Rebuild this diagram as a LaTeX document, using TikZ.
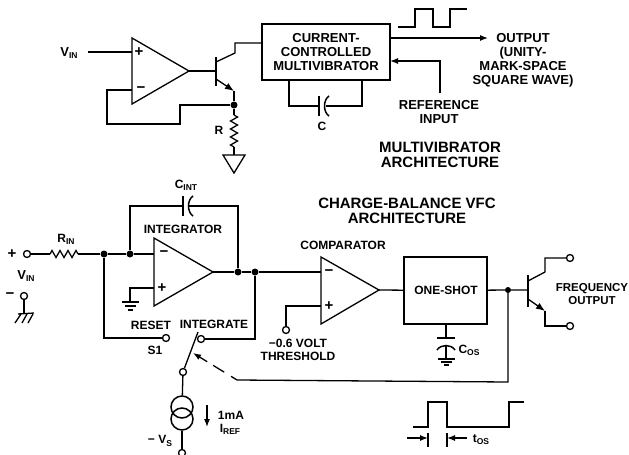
\documentclass[tikz,border=0pt]{standalone}
\usepackage{fontspec}
\setmainfont{Liberation Sans}
\usetikzlibrary{
    arrows.meta,
    decorations.pathmorphing,
    calc
}
\newcommand{\lowtxt}[1]{\raisebox{-2.2pt}{\fontsize{8.5}{8.5}\selectfont #1}}
\tikzset{
    wire/.style={line width=1.3pt, line join=miter},
    bigtip/.style={-{Latex[length=8pt, width=6pt]}},
    emittip/.style={-{Latex[length=9pt, width=7pt]}},
    junction/.style={circle, fill=black, inner sep=0pt, minimum size=7pt},
    smalldot/.style={circle, fill=black, inner sep=0pt, minimum size=6pt},
    term/.style={circle, draw, fill=white, line width=1.3pt, inner sep=0pt, minimum size=7pt},
    lbl/.style={font=\bfseries\fontsize{12}{13.5}\selectfont, align=center, inner sep=0pt},
    toplbl/.style={font=\bfseries\fontsize{13}{14}\selectfont, align=center, inner sep=0pt},
    title/.style={font=\bfseries\fontsize{15}{15.5}\selectfont, align=center, inner sep=0pt},
    signlbl/.style={font=\bfseries\fontsize{15}{15}\selectfont, inner sep=0pt},
    res/.style={wire, decorate, decoration={zigzag, segment length=8pt, amplitude=3.5pt}},
    block/.style={draw, line width=1.3pt, inner sep=0pt}
}
\begin{document}
\begin{tikzpicture}[x=1pt, y=-1pt]
    \useasboundingbox (0, 0) rectangle (629, 455);

    \coordinate (upamptl) at (132, 38);
    \coordinate (upampbl) at (132, 104);
    \coordinate (upamptip) at (189, 71);
    \coordinate (uplus) at (132, 52);
    \coordinate (uminus) at (132, 90);
    \coordinate (uvin) at (88, 52);
    \draw[wire] (upamptl) -- (upampbl) -- (upamptip) -- cycle;
    \node[toplbl] (uvinlabel) at (69, 53) {V\lowtxt{IN}};
    \node[signlbl] (uplussign) at (139, 52) {+};
    \node[signlbl] (uminussign) at (141, 90) {−};
    \draw[wire] (uvin) -- (uplus);

    \node[block, minimum width=128pt, minimum height=56pt] (multivib) at (326, 52) {};
    \node[toplbl] (multivibtext) at (326, 52) {CURRENT-\\CONTROLLED\\MULTIVIBRATOR};
    \coordinate (ubase) at (216, 71);
    \coordinate (ubartop) at (216, 57);
    \coordinate (ubarbot) at (216, 86);
    \coordinate (ucoll) at (235, 53);
    \coordinate (uemit) at (234, 91);
    \node[junction] (uemitdot) at (234, 105) {};
    \draw[wire, line width=1.6pt] (ubartop) -- (ubarbot);
    \draw[wire] (upamptip) -- (ubase);
    \draw[wire] (216, 62) -- (ucoll) -- (235, 43) -- (262, 43);
    \draw[wire, emittip] (216, 79) -- (uemit);
    \draw[wire] (uemit) -- (uemitdot);
    \draw[wire] (uemitdot) -- (180, 105) -- (180, 124) -- (107, 124) -- (107, 90) -- (uminus);

    \coordinate (rtop) at (234, 115);
    \coordinate (rbot) at (234, 147);
    \coordinate (gndtop) at (234, 155);
    \node[lbl] (rlabel) at (219, 130) {R};
    \draw[wire] (uemitdot) -- (rtop);
    \draw[res] (rtop) -- (rbot);
    \draw[wire] (rbot) -- (gndtop);
    \draw[wire] (223, 155) -- (245, 155) -- (234, 173) -- cycle;

    \coordinate (uplatea) at (319, 106);
    \coordinate (uplateb) at (326, 106);
    \draw[wire] (289, 80) -- (289, 106) -- (uplatea);
    \draw[wire] (362, 80) -- (362, 106) -- (uplateb);
    \draw[wire, line width=1.5pt] (319, 96) -- (319, 116);
    \draw[wire, line width=1.5pt] (329, 96) .. controls (323, 100) and (323, 112) .. (329, 116);
    \node[lbl] (clabel) at (322, 126) {C};

    \coordinate (outend) at (488, 38);
    \draw[wire, bigtip] (390, 38) -- (outend);
    \node[toplbl] (outlabel) at (523, 60) {OUTPUT\\(UNITY-\\MARK-SPACE\\SQUARE WAVE)};
    \draw[wire] (398, 27) -- (415, 27) -- (415, 9) -- (433, 9) -- (433, 27) -- (450, 27) -- (450, 9) -- (467, 9);
    \draw[wire, bigtip] (440, 93) -- (440, 61) -- (390, 61);
    \node[toplbl] (reflabel) at (439, 112) {REFERENCE\\INPUT};
    \node[title] (multititle) at (440, 155) {MULTIVIBRATOR\\ARCHITECTURE};

    \node[title] (vfctitle) at (407, 211) {CHARGE-BALANCE VFC\\ARCHITECTURE};

    \node[signlbl] (plussign) at (12, 254) {+};
    \node[term] (vinplus) at (27, 254) {};
    \node[toplbl] (vinlabel) at (26, 276) {V\lowtxt{IN}};
    \node[signlbl] (minussign) at (10, 296) {−};
    \node[term] (vinminus) at (24, 296) {};
    \draw[wire] (vinminus) -- (24, 313);
    \draw[wire] (18, 314) -- (34, 313)
    (21, 314) -- (15, 323)
    (27, 314) -- (22, 323)
    (33, 314) -- (28, 323);
    \coordinate (rinleft) at (50, 254);
    \coordinate (rinright) at (78, 254);
    \node[junction] (node1) at (104, 254) {};
    \node[junction] (node2) at (130, 254) {};
    \node[lbl] (rinlabel) at (66, 239) {R\lowtxt{IN}};
    \draw[wire] (vinplus) -- (rinleft);
    \draw[res] (rinleft) -- (rinright);
    \draw[wire] (rinright) -- (node1) -- (node2) -- (154, 254);

    \coordinate (iamptl) at (154, 238);
    \coordinate (iampbl) at (154, 306);
    \coordinate (iamptip) at (213, 272);
    \draw[wire] (iamptl) -- (iampbl) -- (iamptip) -- cycle;
    \node[signlbl] (iminus) at (164, 254) {−};
    \node[signlbl] (iplus) at (162, 288) {+};
    \node[lbl] (intlabel) at (183, 229) {INTEGRATOR};
    \node[lbl] (cintlabel) at (186, 185) {C\lowtxt{INT}};
    \node[junction] (node3) at (238, 272) {};
    \node[junction] (node4) at (255, 272) {};
    \draw[wire] (node2) -- (130, 206) -- (183, 206);
    \draw[wire] (node3) -- (238, 206) -- (189, 206);
    \draw[wire, line width=1.5pt] (183, 196) -- (183, 216);
    \draw[wire, line width=1.5pt] (193, 196) .. controls (187, 200) and (187, 212) .. (193, 216);
    \draw[wire] (iamptip) -- (node3) -- (node4) -- (321, 272);
    \draw[wire] (154, 288) -- (130, 288) -- (130, 302);
    \draw[wire] (122, 302) -- (139, 302)
    (125, 306) -- (136, 306)
    (128, 310) -- (133, 310);

    \node[term] (reset) at (166, 338) {};
    \node[term] (integ) at (201, 339) {};
    \node[term] (pivot) at (183, 372) {};
    \node[lbl] (resetlabel) at (151, 325) {RESET};
    \node[lbl] (s1label) at (155, 350) {S1};
    \node[lbl] (integlabel) at (214, 324) {INTEGRATE};
    \draw[wire] (node1) -- (104, 338) -- (reset);
    \draw[wire] (integ) -- (255, 339) -- (node4);
    \draw[wire] (pivot) -- (198, 332);

    \node[draw, circle, line width=1.5pt, minimum size=22pt, inner sep=0pt] (srca) at (182, 407) {};
    \node[draw, circle, line width=1.5pt, minimum size=22pt, inner sep=0pt] (srcb) at (182, 419) {};
    \node[term] (vsterm) at (182, 453) {};
    \draw[wire] (pivot) -- (srca);
    \draw[wire] (srcb) -- (vsterm);
    \draw[wire, bigtip] (207, 405) -- (207, 427);
    \node[lbl] (imalabel) at (231, 415) {1mA};
    \node[lbl] (ireflabel) at (230, 429) {I\lowtxt{REF}};
    \node[lbl] (vslabel) at (160, 441) {− V\lowtxt{S}};

    \coordinate (camptl) at (321, 257);
    \coordinate (campbl) at (321, 324);
    \coordinate (camptip) at (379, 290);
    \draw[wire] (camptl) -- (campbl) -- (camptip) -- cycle;
    \node[signlbl] (compminus) at (329, 273) {−};
    \node[signlbl] (compplus) at (329, 306) {+};
    \node[lbl] (complabel) at (343, 245) {COMPARATOR};
    \node[term] (thresh) at (286, 330) {};
    \node[lbl] (threshlabel) at (298, 350) {−0.6 VOLT\\THRESHOLD};
    \draw[wire] (thresh) -- (286, 306) -- (321, 306);

    \node[block, minimum width=83pt, minimum height=67pt] (oneshot) at (445.5, 290.5) {};
    \node[lbl] (oneshottext) at (446, 290) {ONE-SHOT};
    \draw[wire] (camptip) -- (oneshot);
    \draw[wire] (446, 324) -- (446, 338);
    \draw[wire, line width=1.5pt] (437, 338) -- (455, 338);
    \draw[wire, line width=1.5pt] (437, 350) .. controls (441, 344) and (451, 344) .. (455, 350);
    \draw[wire] (446, 346) -- (446, 359);
    \draw[wire] (438, 359) -- (455, 359)
    (441, 362) -- (452, 362)
    (444, 365) -- (449, 365);
    \node[lbl] (coslabel) at (469, 350) {C\lowtxt{OS}};

    \node[smalldot] (node5) at (508, 290) {};
    \coordinate (dashend) at (237, 380);
    \draw[wire] (oneshot) -- (node5) -- (528, 290);
    \draw[wire] (node5) -- (508, 382) -- (dashend);
    \draw[wire, dash pattern=on 7pt off 8pt on 13pt off 7pt on 30pt, bigtip] (dashend) -- (193, 353);

    \coordinate (obartop) at (528, 275);
    \coordinate (obarbot) at (528, 307);
    \coordinate (ocoll) at (545, 272);
    \coordinate (oemit) at (545, 311);
    \node[term] (ftop) at (570, 258) {};
    \node[term] (fbot) at (570, 326) {};
    \draw[wire, line width=1.6pt] (obartop) -- (obarbot);
    \draw[wire] (528, 281) -- (ocoll) -- (545, 258) -- (ftop);
    \draw[wire, emittip] (528, 299) -- (oemit);
    \draw[wire] (oemit) -- (545, 326) -- (fbot);
    \node[lbl, font=\bfseries\fontsize{11.5}{13}\selectfont] (freqlabel) at (592, 294) {FREQUENCY\\OUTPUT};

    \draw[wire] (413, 427) -- (428, 427) -- (428, 402) -- (447, 402) -- (447, 427) -- (509, 427) -- (509, 402) -- (524, 402);
    \draw[wire] (428, 433) -- (428, 447)
    (447, 433) -- (447, 447);
    \draw[wire, bigtip] (407, 438) -- (428, 438);
    \draw[wire, bigtip] (467, 438) -- (447, 438);
    \node[lbl] (toslabel) at (481, 440) {t\lowtxt{OS}};
\end{tikzpicture}
\end{document}
